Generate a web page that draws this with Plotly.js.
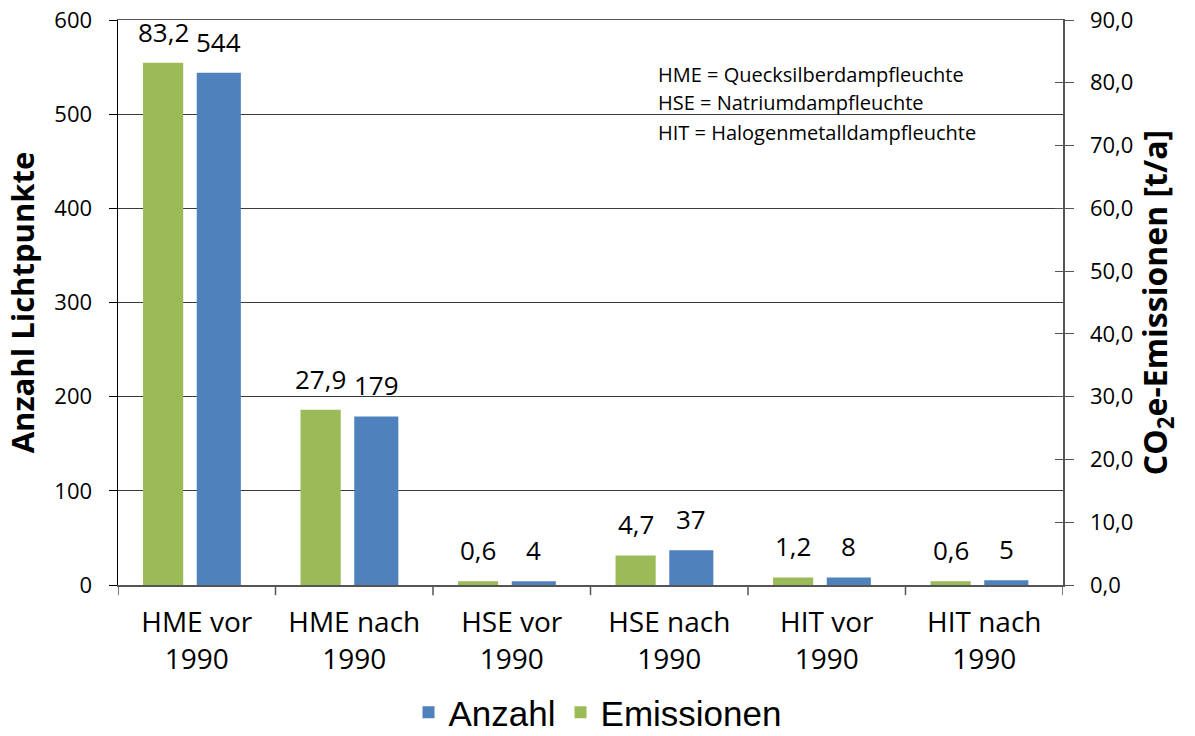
<!DOCTYPE html>
<html>
<head>
<meta charset="utf-8">
<script src="https://cdn.plot.ly/plotly-3.0.1.min.js"></script>
<style>html,body{margin:0;padding:0;background:#fff}#chart{width:1195px;height:736px}</style>
</head>
<body>
<div id="chart"></div>
<script>
const categories = ["HME vor<br>1990", "HME nach<br>1990", "HSE vor<br>1990", "HSE nach<br>1990", "HIT vor<br>1990", "HIT nach<br>1990"];
const anzahl = [544, 179, 4, 37, 8, 5];
const emissionen = [83.2, 27.9, 0.6, 4.7, 1.2, 0.6];
const notes = ["HME = Quecksilberdampfleuchte", "HSE = Natriumdampfleuchte", "HIT = Halogenmetalldampfleuchte"];
const seriesNames = ["Anzahl", "Emissionen"];

const FONT = "Open Sans, sans-serif";
const BLUE = "#4F81BD", GREEN = "#9BBB59";
const wBlue = 0.28, oBlue = 0.0;
const wGreen = 0.255, oGreen = -0.341;

const traces = [
  {type: "bar", name: seriesNames[0], x: categories.map((c, i) => i), y: anzahl, yaxis: "y",
   width: wBlue, offset: oBlue, marker: {color: BLUE}, hoverinfo: "y"},
  {type: "bar", name: seriesNames[1], x: categories.map((c, i) => i), y: emissionen, yaxis: "y2",
   width: wGreen, offset: oGreen, marker: {color: GREEN}, hoverinfo: "y"},
  {type: "scatter", x: [0], y: [0], yaxis: "y3", mode: "none", showlegend: false, hoverinfo: "skip"}
];

const annotations = [];
anzahl.forEach((v, i) => annotations.push({
  x: i + oBlue + wBlue / 2, y: v, xref: "x", yref: "y", text: String(v),
  showarrow: false, yanchor: "bottom", yshift: 11, font: {family: FONT, size: 26, color: "#000"}
}));
emissionen.forEach((v, i) => annotations.push({
  x: i + oGreen + wGreen / 2, y: v, xref: "x", yref: "y2", text: v.toFixed(1).replace(".", ","),
  showarrow: false, yanchor: "bottom", yshift: 11, font: {family: FONT, size: 26, color: "#000"}
}));
const noteY = [0.9044, 0.8531, 0.800];
notes.forEach((t, i) => annotations.push({
  x: 0.569, y: noteY[i], xref: "paper", yref: "paper", text: t, showarrow: false,
  xanchor: "left", yanchor: "middle", font: {family: FONT, size: 20, color: "#000"}
}));

const layout = {
  width: 1195, height: 736,
  margin: {l: 118, r: 132, t: 20, b: 151},
  paper_bgcolor: "#fff", plot_bgcolor: "#fff",
  separators: ",.",
  barmode: "overlay",
  showlegend: true,
  legend: {orientation: "h", xref: "container", yref: "container", x: 0.5, xanchor: "center",
           y: 0.032, yanchor: "middle", font: {family: "Liberation Sans, Arial, sans-serif", size: 35, color: "#000"},
           traceorder: "normal", itemwidth: 30},
  xaxis: {
    tickmode: "array", tickvals: categories.map((c, i) => i), ticktext: categories,
    range: [-0.5, 5.5], showgrid: false, zeroline: false,
    showline: true, linecolor: "#555", linewidth: 1.5, mirror: true,
    ticks: "", tickfont: {family: FONT, size: 28, color: "#000"}, ticklabelstandoff: 12
  },
  yaxis: {
    range: [0, 600], dtick: 100, tickformat: "d", showgrid: true, gridcolor: "#3a3a3a", gridwidth: 1,
    zeroline: false, showline: true, linecolor: "#000", linewidth: 1.5,
    ticks: "outside", ticklen: 8, tickcolor: "#000", ticklabelstandoff: 12,
    tickfont: {family: FONT, size: 22, color: "#000"},
    title: {text: "Anzahl Lichtpunkte", font: {family: FONT, size: 31, color: "#000", weight: "bold"}, standoff: 10}
  },
  yaxis2: {
    overlaying: "y", side: "right", range: [0, 90], dtick: 10, tickformat: ".1f",
    showgrid: false, zeroline: false, showline: true, linecolor: "#555", linewidth: 1.5,
    ticks: "outside", ticklen: 9, tickcolor: "#555", ticklabelstandoff: 12,
    tickfont: {family: FONT, size: 22, color: "#000"},
    title: {text: "CO<sub>2</sub>e-Emissionen [t/a]", font: {family: FONT, size: 32, color: "#000", weight: "bold"}, standoff: 10}
  },
  yaxis3: {
    overlaying: "y", side: "right", range: [0, 90], dtick: 10, showgrid: false, zeroline: false,
    showline: false, ticks: "inside", ticklen: 8, tickcolor: "#555", showticklabels: false
  },
  annotations: annotations,
  shapes: categories.map((c, i) => ({
    type: "line", xref: "x", yref: "paper", x0: i - 0.5, x1: i - 0.5, y0: 0, y1: -0.018,
    line: {color: "#555", width: 1.5}
  })).concat([{type: "line", xref: "x", yref: "paper", x0: 5.5, x1: 5.5, y0: 0, y1: -0.018, line: {color: "#555", width: 1.5}}])
};

Plotly.newPlot("chart", traces, layout, {displayModeBar: false, staticPlot: true});
</script>
</body>
</html>
